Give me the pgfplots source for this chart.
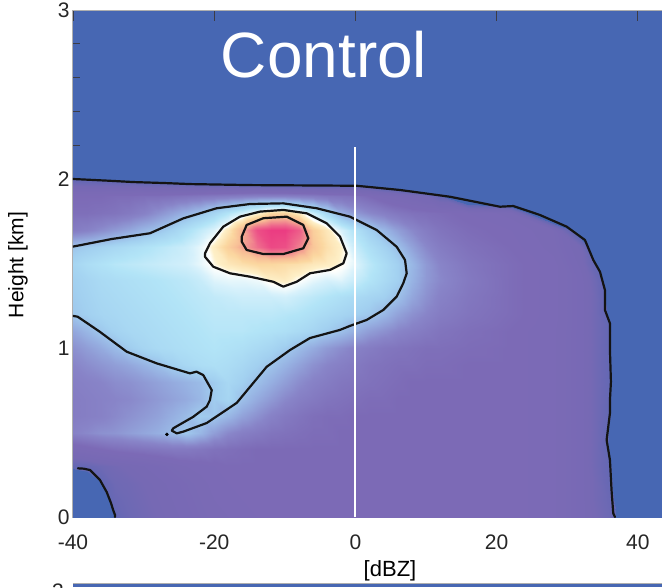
\documentclass[border=0pt]{standalone}
\usepackage{fontspec}
\setmainfont{Liberation Sans}
\usepackage{pgfplots}
\pgfplotsset{compat=1.18}
\usetikzlibrary{calc}
\definecolor{cfblue}{RGB}{71,103,179}
\definecolor{framegray}{RGB}{175,175,175}
\definecolor{tickdark}{RGB}{60,60,70}
\begin{document}
\begin{tikzpicture}
\begin{axis}[
  name=ax,
  scale only axis, width=593pt, height=507pt,
  xmin=-40, xmax=44, ymin=0, ymax=3,
  axis background/.style={fill=cfblue},
  xtick={-40,-20,0,20,40}, ytick={0,1,2,3},
  minor y tick num=4,
  ytick pos=left,
  tick align=inside,
  major tick length=11pt, minor tick length=7pt,
  every tick/.style={tickdark, line width=0.8pt},
  axis line style={framegray, line width=1pt},
  tick label style={font=\fontsize{21}{24}\selectfont, text=black!85},
  /pgf/number format/assume math mode=true,
  xticklabel style={yshift=-14pt},
  ylabel={Height [km]}, xlabel={[dBZ]},
  every axis y label/.style={at={(axis description cs:-0.0927,0.497)}, rotate=90, anchor=center, font=\fontsize{21}{24}\selectfont},
  every axis x label/.style={at={(axis description cs:0.5346,-0.1065)}, anchor=center, font=\fontsize{22}{26}\selectfont},
  colormap={cfad}{rgb255(0pt)=(71,103,179); rgb255(447pt)=(71,103,179); rgb255(450pt)=(98,104,180); rgb255(530pt)=(118,105,180); rgb255(650pt)=(124,106,182); rgb255(750pt)=(136,132,200); rgb255(850pt)=(150,175,225); rgb255(930pt)=(162,208,240); rgb255(1010pt)=(178,228,247); rgb255(1080pt)=(215,241,251); rgb255(1130pt)=(255,255,252); rgb255(1150pt)=(254,240,200); rgb255(1210pt)=(251,215,160); rgb255(1270pt)=(248,190,150); rgb255(1310pt)=(243,160,145); rgb255(1380pt)=(238,105,140); rgb255(1450pt)=(235,60,130)},
  point meta min=-45, point meta max=100,
  cline/.style={black!92, line width=2.2pt, line join=round, line cap=round, mark=none},
]
\addplot[surf, shader=interp, mesh/cols=35, point meta=explicit] table[x=x, y=y, meta=v] {
x y v
-40 0 -12
-38 0 -10
-36 0 -6
-34 0 0.2
-32 0 4
-30 0 6
-28 0 8
-26 0 10
-24 0 12
-22 0 14
-20 0 16
-18 0 17
-16 0 18
-14 0 19
-12 0 20
-10 0 20
-8 0 20
-6 0 20
-4 0 20
-2 0 20
0 0 20
2 0 20
4 0 20
6 0 20
8 0 20
10 0 20
12 0 20
16 0 20
22 0 20
28 0 17.5
32 0 12
34 0 8
36 0 4
38 0 -6
44 0 -30
-40 0.1 -10
-38 0.1 -8
-36 0.1 -4
-34 0.1 3
-32 0.1 5
-30 0.1 7
-28 0.1 9
-26 0.1 11
-24 0.1 13
-22 0.1 15
-20 0.1 17
-18 0.1 18
-16 0.1 19
-14 0.1 20
-12 0.1 20
-10 0.1 20
-8 0.1 20
-6 0.1 20
-4 0.1 20
-2 0.1 20
0 0.1 20
2 0.1 20
4 0.1 20
6 0.1 20
8 0.1 20
10 0.1 20
12 0.1 20
16 0.1 20
22 0.1 20
28 0.1 17.5
32 0.1 12
34 0.1 7
36 0.1 3
38 0.1 -9
44 0.1 -30
-40 0.2 -8
-38 0.2 -5
-36 0.2 -0.5
-34 0.2 5
-32 0.2 6
-30 0.2 8
-28 0.2 10
-26 0.2 12
-24 0.2 14
-22 0.2 16
-20 0.2 18
-18 0.2 19
-16 0.2 20
-14 0.2 20
-12 0.2 20
-10 0.2 20
-8 0.2 20
-6 0.2 20
-4 0.2 20
-2 0.2 20
0 0.2 20
2 0.2 20
4 0.2 20
6 0.2 20
8 0.2 20
10 0.2 20
12 0.2 20
16 0.2 20
22 0.2 20
28 0.2 17.5
32 0.2 12
34 0.2 7
36 0.2 1.5
38 0.2 -9
44 0.2 -30
-40 0.3 1
-38 0.3 2
-36 0.3 5
-34 0.3 7
-32 0.3 9
-30 0.3 11
-28 0.3 13
-26 0.3 15
-24 0.3 17
-22 0.3 18
-20 0.3 19
-18 0.3 20
-16 0.3 20
-14 0.3 20
-12 0.3 20
-10 0.3 20
-8 0.3 20
-6 0.3 20
-4 0.3 20
-2 0.3 20
0 0.3 20
2 0.3 20
4 0.3 20
6 0.3 20
8 0.3 20
10 0.3 20
12 0.3 20
16 0.3 20
22 0.3 20
28 0.3 17.5
32 0.3 12
34 0.3 6
36 0.3 0.5
38 0.3 -12
44 0.3 -30
-40 0.4 16
-38 0.4 18
-36 0.4 20
-34 0.4 22
-32 0.4 23
-30 0.4 24
-28 0.4 25
-26 0.4 26
-24 0.4 26
-22 0.4 25
-20 0.4 23
-18 0.4 22
-16 0.4 21
-14 0.4 20
-12 0.4 20
-10 0.4 20
-8 0.4 20
-6 0.4 20
-4 0.4 20
-2 0.4 20
0 0.4 20
2 0.4 20
4 0.4 20
6 0.4 20
8 0.4 20
10 0.4 20
12 0.4 20
16 0.4 20
22 0.4 20
28 0.4 17.5
32 0.4 12
34 0.4 6
36 0.4 -1
38 0.4 -12
44 0.4 -30
-40 0.5 29
-38 0.5 31
-36 0.5 33
-34 0.5 34
-32 0.5 36
-30 0.5 38
-28 0.5 40
-26 0.5 43
-24 0.5 46
-22 0.5 42
-20 0.5 36
-18 0.5 31
-16 0.5 28
-14 0.5 26
-12 0.5 24
-10 0.5 23
-8 0.5 22
-6 0.5 21
-4 0.5 21
-2 0.5 20
0 0.5 20
2 0.5 20
4 0.5 20
6 0.5 20
8 0.5 20
10 0.5 20
12 0.5 20
16 0.5 20
22 0.5 20
28 0.5 17.5
32 0.5 12
34 0.5 6
36 0.5 -1
38 0.5 -12
44 0.5 -30
-40 0.6 27
-38 0.6 28
-36 0.6 29
-34 0.6 31
-32 0.6 33
-30 0.6 35
-28 0.6 37
-26 0.6 40
-24 0.6 43
-22 0.6 47
-20 0.6 46
-18 0.6 42
-16 0.6 37
-14 0.6 33
-12 0.6 29
-10 0.6 26
-8 0.6 24
-6 0.6 22
-4 0.6 21
-2 0.6 21
0 0.6 20
2 0.6 20
4 0.6 20
6 0.6 20
8 0.6 20
10 0.6 20
12 0.6 20
16 0.6 20
22 0.6 20
28 0.6 17.5
32 0.6 12
34 0.6 6
36 0.6 0
38 0.6 -12
44 0.6 -30
-40 0.7 27
-38 0.7 28
-36 0.7 29
-34 0.7 30
-32 0.7 31
-30 0.7 33
-28 0.7 35
-26 0.7 37
-24 0.7 39
-22 0.7 42
-20 0.7 47
-18 0.7 50
-16 0.7 44
-14 0.7 39
-12 0.7 35
-10 0.7 31
-8 0.7 28
-6 0.7 26
-4 0.7 24
-2 0.7 23
0 0.7 22
2 0.7 21
4 0.7 21
6 0.7 20
8 0.7 20
10 0.7 20
12 0.7 20
16 0.7 20
22 0.7 20
28 0.7 17.5
32 0.7 12
34 0.7 6
36 0.7 0.5
38 0.7 -12
44 0.7 -30
-40 0.8 28
-38 0.8 29
-36 0.8 30
-34 0.8 32
-32 0.8 33
-30 0.8 35
-28 0.8 37
-26 0.8 39
-24 0.8 41
-22 0.8 43
-20 0.8 47
-18 0.8 51
-16 0.8 48
-14 0.8 44
-12 0.8 40
-10 0.8 36
-8 0.8 32
-6 0.8 29
-4 0.8 27
-2 0.8 25
0 0.8 24
2 0.8 23
4 0.8 22
6 0.8 21
8 0.8 20
10 0.8 20
12 0.8 20
16 0.8 20
22 0.8 20
28 0.8 17.5
32 0.8 12
34 0.8 6
36 0.8 0.5
38 0.8 -12
44 0.8 -30
-40 0.9 30
-38 0.9 32
-36 0.9 34
-34 0.9 36
-32 0.9 38
-30 0.9 41
-28 0.9 44
-26 0.9 48
-24 0.9 51
-22 0.9 53
-20 0.9 54
-18 0.9 53
-16 0.9 51
-14 0.9 48
-12 0.9 45
-10 0.9 41
-8 0.9 37
-6 0.9 33
-4 0.9 30
-2 0.9 28
0 0.9 26
2 0.9 24
4 0.9 23
6 0.9 22
8 0.9 22
10 0.9 21
12 0.9 21
16 0.9 20
22 0.9 20
28 0.9 17.5
32 0.9 12
34 0.9 6
36 0.9 0.5
38 0.9 -12
44 0.9 -30
-40 1.0 33
-38 1.0 36
-36 1.0 39
-34 1.0 43
-32 1.0 47
-30 1.0 50
-28 1.0 52
-26 1.0 53
-24 1.0 54
-22 1.0 55
-20 1.0 56
-18 1.0 55
-16 1.0 54
-14 1.0 52
-12 1.0 50
-10 1.0 47
-8 1.0 43
-6 1.0 39
-4 1.0 35
-2 1.0 32
0 1.0 29
2 1.0 27
4 1.0 25
6 1.0 24
8 1.0 23
10 1.0 22
12 1.0 22
16 1.0 21
22 1.0 20
28 1.0 17.5
32 1.0 12
34 1.0 6
36 1.0 0.5
38 1.0 -12
44 1.0 -30
-40 1.1 38
-38 1.1 42
-36 1.1 46
-34 1.1 49
-32 1.1 51
-30 1.1 52
-28 1.1 53
-26 1.1 54
-24 1.1 55
-22 1.1 56
-20 1.1 57
-18 1.1 57
-16 1.1 57
-14 1.1 56
-12 1.1 55
-10 1.1 54
-8 1.1 52
-6 1.1 50
-4 1.1 47
-2 1.1 44
0 1.1 40
2 1.1 36
4 1.1 33
6 1.1 30
8 1.1 28
10 1.1 26
12 1.1 24
16 1.1 22
22 1.1 20
28 1.1 17.5
32 1.1 12
34 1.1 6
36 1.1 0.5
38 1.1 -12
44 1.1 -30
-40 1.2 46
-38 1.2 48
-36 1.2 50
-34 1.2 51
-32 1.2 52
-30 1.2 53
-28 1.2 54
-26 1.2 55
-24 1.2 56
-22 1.2 57
-20 1.2 58
-18 1.2 58
-16 1.2 58
-14 1.2 58
-12 1.2 58
-10 1.2 57
-8 1.2 56
-6 1.2 54
-4 1.2 52
-2 1.2 50
0 1.2 48
2 1.2 46
4 1.2 42
6 1.2 37
8 1.2 33
10 1.2 30
12 1.2 27
16 1.2 24
22 1.2 21
28 1.2 18
32 1.2 12
34 1.2 6
36 1.2 -2
38 1.2 -30
44 1.2 -30
-40 1.3 47
-38 1.3 49
-36 1.3 51
-34 1.3 52
-32 1.3 53
-30 1.3 54
-28 1.3 55
-26 1.3 56
-24 1.3 57
-22 1.3 58
-20 1.3 59
-18 1.3 60
-16 1.3 61
-14 1.3 61
-12 1.3 61
-10 1.3 62
-8 1.3 60
-6 1.3 58
-4 1.3 56
-2 1.3 54
0 1.3 52
2 1.3 50
4 1.3 48
6 1.3 44
8 1.3 38
10 1.3 33
12 1.3 29
16 1.3 25
22 1.3 21
28 1.3 18
32 1.3 12
34 1.3 6
36 1.3 -3
38 1.3 -30
44 1.3 -30
-40 1.4 48
-38 1.4 50
-36 1.4 52
-34 1.4 53
-32 1.4 54
-30 1.4 55
-28 1.4 56
-26 1.4 57
-24 1.4 58
-22 1.4 60
-20 1.4 64
-18 1.4 65
-16 1.4 65
-14 1.4 66
-12 1.4 70
-10 1.4 71
-8 1.4 68
-6 1.4 65
-4 1.4 63
-2 1.4 64
0 1.4 60
2 1.4 56
4 1.4 52
6 1.4 48
8 1.4 41
10 1.4 35
12 1.4 31
16 1.4 26
22 1.4 21
28 1.4 18
32 1.4 12
34 1.4 5
36 1.4 -5
38 1.4 -30
44 1.4 -30
-40 1.5 50
-38 1.5 53
-36 1.5 55
-34 1.5 57
-32 1.5 58
-30 1.5 59
-28 1.5 60
-26 1.5 61
-24 1.5 62
-22 1.5 65
-20 1.5 69
-18 1.5 72
-16 1.5 74
-14 1.5 76
-12 1.5 76
-10 1.5 75
-8 1.5 74
-6 1.5 72
-4 1.5 71
-2 1.5 69
0 1.5 64
2 1.5 58
4 1.5 53
6 1.5 48
8 1.5 42
10 1.5 35
12 1.5 30
16 1.5 25
22 1.5 21
28 1.5 18
32 1.5 10
34 1.5 1
36 1.5 -10
38 1.5 -30
44 1.5 -30
-40 1.6 45
-38 1.6 47
-36 1.6 49
-34 1.6 51
-32 1.6 53
-30 1.6 55
-28 1.6 57
-26 1.6 59
-24 1.6 61
-22 1.6 65
-20 1.6 71
-18 1.6 78
-16 1.6 85
-14 1.6 92
-12 1.6 98
-10 1.6 97
-8 1.6 90
-6 1.6 80
-4 1.6 74
-2 1.6 70
0 1.6 60
2 1.6 54
4 1.6 49
6 1.6 44
8 1.6 37
10 1.6 31
12 1.6 27
16 1.6 23
22 1.6 20
28 1.6 16
32 1.6 8
34 1.6 -10
36 1.6 -20
38 1.6 -30
44 1.6 -30
-40 1.7 27
-38 1.7 29
-36 1.7 32
-34 1.7 35
-32 1.7 38
-30 1.7 42
-28 1.7 45
-26 1.7 49
-24 1.7 54
-22 1.7 59
-20 1.7 64
-18 1.7 72
-16 1.7 84
-14 1.7 97
-12 1.7 100
-10 1.7 100
-8 1.7 95
-6 1.7 78
-4 1.7 72
-2 1.7 63
0 1.7 55
2 1.7 48
4 1.7 42
6 1.7 36
8 1.7 31
10 1.7 27
12 1.7 24
16 1.7 21
22 1.7 19
28 1.7 15
32 1.7 -9
34 1.7 -20
36 1.7 -30
38 1.7 -30
44 1.7 -30
-40 1.8 22
-38 1.8 22
-36 1.8 23
-34 1.8 24
-32 1.8 26
-30 1.8 29
-28 1.8 33
-26 1.8 37
-24 1.8 41
-22 1.8 45
-20 1.8 50
-18 1.8 56
-16 1.8 62
-14 1.8 69
-12 1.8 76
-10 1.8 77
-8 1.8 71
-6 1.8 61
-4 1.8 51
-2 1.8 40
0 1.8 35
2 1.8 31
4 1.8 28
6 1.8 25
8 1.8 23
10 1.8 22
12 1.8 21
16 1.8 19
22 1.8 16
28 1.8 -24
32 1.8 -30
34 1.8 -30
36 1.8 -30
38 1.8 -30
44 1.8 -30
-40 1.9 20
-38 1.9 20
-36 1.9 20
-34 1.9 21
-32 1.9 21
-30 1.9 22
-28 1.9 22
-26 1.9 23
-24 1.9 24
-22 1.9 25
-20 1.9 26
-18 1.9 27
-16 1.9 28
-14 1.9 29
-12 1.9 29
-10 1.9 29
-8 1.9 28
-6 1.9 27
-4 1.9 25
-2 1.9 24
0 1.9 23
2 1.9 20
4 1.9 16
6 1.9 14
8 1.9 11
10 1.9 8
12 1.9 1
16 1.9 -20
22 1.9 -30
28 1.9 -40
32 1.9 -40
34 1.9 -40
36 1.9 -40
38 1.9 -40
44 1.9 -40
-40 2.0 -0.6
-38 2.0 -0.8
-36 2.0 -1.5
-34 2.0 -2.1
-32 2.0 -2.6
-30 2.0 -5.5
-28 2.0 -6.2
-26 2.0 -7.7
-24 2.0 -8.9
-22 2.0 -10.7
-20 2.0 -12.2
-18 2.0 -13.3
-16 2.0 -15
-14 2.0 -16.3
-12 2.0 -17
-10 2.0 -17.8
-8 2.0 -18
-6 2.0 -17
-4 2.0 -16
-2 2.0 -15
0 2.0 -15
2 2.0 -16
4 2.0 -20
6 2.0 -26
8 2.0 -33
10 2.0 -45
12 2.0 -40
16 2.0 -40
22 2.0 -40
28 2.0 -40
32 2.0 -40
34 2.0 -40
36 2.0 -40
38 2.0 -40
44 2.0 -40
};
% outer contour
\addplot[cline] coordinates {(-40,2.0) (-35,1.99) (-31.5,1.982) (-27,1.976) (-23.43,1.970) (-14.93,1.964) (-7,1.962) (0.18,1.960) (6.32,1.935) (13.4,1.895) (20.48,1.836) (22.37,1.840) (26.15,1.787) (29.93,1.718) (32.52,1.639) (33.7,1.521) (34.65,1.451) (35.35,1.343) (35.35,1.225) (36.06,1.146) (36.06,0.988) (36.2,0.8) (36.06,0.692) (36.06,0.614) (35.59,0.456) (36.06,0.337) (36.3,0.15) (36.53,0.022) (36.77,0)};
% bottom-left blob
\addplot[cline] coordinates {(-39.3,0.288) (-38.5,0.286) (-37.59,0.278) (-36.18,0.219) (-35.23,0.148) (-34.62,0.083) (-34.3,0.04) (-34.05,0.012) (-34.05,0)};
% second contour
\addplot[cline] coordinates {(-40,1.600) (-34.5,1.645) (-29.09,1.679) (-24.38,1.767) (-19.65,1.827) (-14.93,1.852) (-10.21,1.856) (-5.48,1.827) (-0.76,1.777) (3.02,1.698) (5.85,1.599) (7.03,1.521) (7.27,1.442) (6.78,1.383) (5.85,1.304) (3.95,1.225) (1.6,1.166) (-0.76,1.131) (-2.18,1.107) (-6.43,1.059) (-9.26,0.988) (-12.56,0.889) (-16.81,0.675) (-21.06,0.556) (-24.38,0.505) (-25.3,0.495) (-26.0,0.511) (-25.8,0.525) (-22.96,0.593) (-21.06,0.653) (-20.6,0.692) (-20.35,0.751) (-21.55,0.840) (-22.5,0.86) (-23.43,0.850) (-28.14,0.909) (-32.39,0.978) (-36.2,1.096) (-39.33,1.185) (-40,1.19)};
% third contour
\addplot[cline] coordinates {(-21.3,1.56) (-20.59,1.62) (-18.71,1.718) (-16.35,1.777) (-13.51,1.807) (-10.21,1.817) (-6.9,1.797) (-4.07,1.738) (-2.18,1.659) (-1.23,1.56) (-1.71,1.501) (-3.6,1.462) (-6.43,1.442) (-8.31,1.392) (-10.21,1.363) (-11.63,1.392) (-14.93,1.422) (-17.76,1.442) (-20.13,1.481) (-21.3,1.54) (-21.3,1.56)};
% inner contour
\addplot[cline] coordinates {(-16.1,1.659) (-15.4,1.728) (-13.04,1.768) (-9.73,1.777) (-7.38,1.728) (-6.67,1.649) (-7.38,1.59) (-10.21,1.556) (-13.04,1.556) (-15.4,1.58) (-16.1,1.629) (-16.1,1.659)};
% tiny closed contour
\addplot[only marks, mark=*, mark size=1.5pt, black] coordinates {(-26.7,0.489)};
% white line at 0 dBZ
\addplot[white, line width=1.8pt] coordinates {(0,0) (0,2.19)};
\coordinate (O) at (axis cs:-40,0);
\end{axis}
\pgfresetboundingbox
\path[use as bounding box] ($(O)+(-73pt,-70pt)$) rectangle ($(O)+(589pt,517pt)$);
\node[white, anchor=base, font=\fontsize{64}{70}\selectfont] at ($(O)+(251pt,439pt)$) {Control};
\fill[cfblue] ($(O)+(0pt,-70pt)$) rectangle ($(O)+(589pt,-66.5pt)$);
\draw[framegray, line width=1pt] ($(O)+(0pt,-66.5pt)$) -- ($(O)+(589pt,-66.5pt)$);
\node[anchor=north, inner sep=0pt, font=\fontsize{21}{24}\selectfont, text=black!85] at ($(O)+(-15pt,-66.5pt)$) {3};
\end{tikzpicture}
\end{document}
